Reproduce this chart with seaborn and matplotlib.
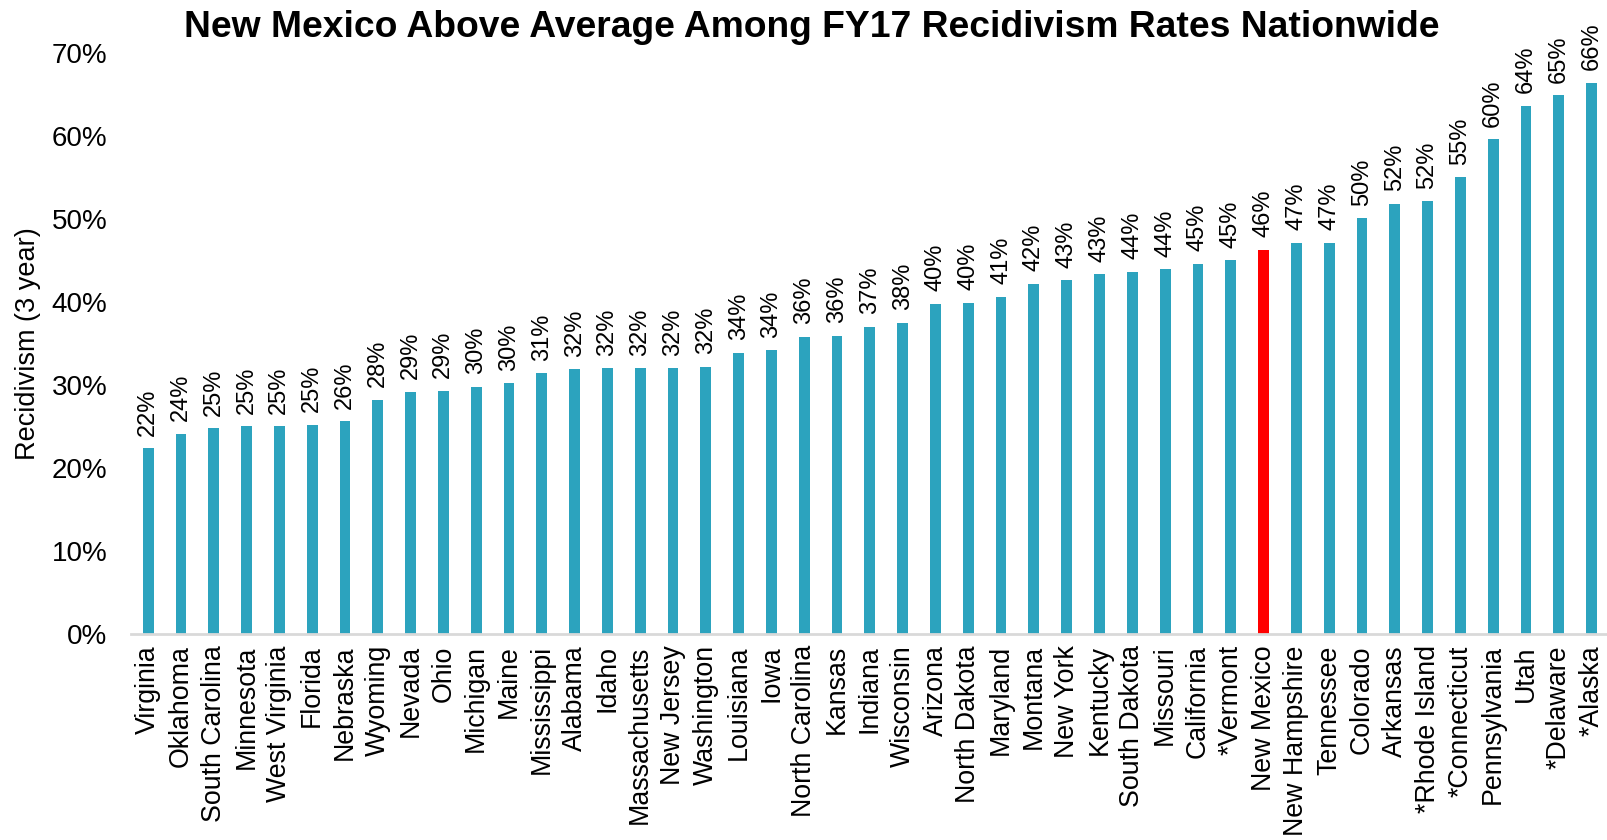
import matplotlib
matplotlib.use("Agg")
import matplotlib.pyplot as plt
import seaborn as sns
import pandas as pd
from matplotlib.ticker import PercentFormatter

# ===== DATA =====
states = ["Virginia", "Oklahoma", "South Carolina", "Minnesota", "West Virginia", "Florida",
          "Nebraska", "Wyoming", "Nevada", "Ohio", "Michigan", "Maine", "Mississippi",
          "Alabama", "Idaho", "Massachusetts", "New Jersey", "Washington", "Louisiana", "Iowa",
          "North Carolina", "Kansas", "Indiana", "Wisconsin", "Arizona", "North Dakota",
          "Maryland", "Montana", "New York", "Kentucky", "South Dakota", "Missouri",
          "California", "*Vermont", "New Mexico", "New Hampshire", "Tennessee", "Colorado",
          "Arkansas", "*Rhode Island", "*Connecticut", "Pennsylvania", "Utah", "*Delaware",
          "*Alaska"]
rates = [22.4, 24.1, 24.8, 25.0, 25.0, 25.2, 25.6, 28.2, 29.2, 29.3, 29.8, 30.2, 31.4,
         31.9, 32.0, 32.0, 32.0, 32.2, 33.9, 34.2, 35.8, 35.9, 37.0, 37.5, 39.8, 39.9,
         40.6, 42.2, 42.6, 43.3, 43.6, 43.9, 44.6, 45.0, 46.3, 47.1, 47.1, 50.1,
         51.8, 52.1, 55.0, 59.6, 63.6, 64.9, 66.4]
highlight = "New Mexico"

df = pd.DataFrame({"State": states, "Rate": rates})

teal = "#2CA3BE"
colors = {s: ("#FF0000" if s == highlight else teal) for s in states}

plt.rcParams["font.family"] = ["Liberation Sans", "DejaVu Sans"]

fig = plt.figure(figsize=(16.08, 8.4), dpi=100)
ax = fig.add_axes([0.0815, 0.2452, 0.9185, 0.692])

sns.barplot(data=df, x="State", y="Rate", hue="State", palette=colors,
            legend=False, width=0.33, saturation=1, ax=ax)

for i, v in enumerate(rates):
    ax.annotate(f"{v:.0f}%", (i, v), xytext=(0, 9), textcoords="offset points",
                rotation=90, ha="center", va="bottom", fontsize=17)

ax.set_xlim(-0.52, 44.5)
ax.set_ylim(0, 70)
ax.set_yticks(range(0, 71, 10))
ax.yaxis.set_major_formatter(PercentFormatter(decimals=0))
ax.tick_params(axis="y", length=0, labelsize=20, pad=17)
ax.tick_params(axis="x", length=0, labelsize=19.3, pad=8, rotation=90)
for lab in ax.get_xticklabels():
    lab.set_va("top")
ax.set_xlabel("")
ax.set_ylabel("Recidivism (3 year)", fontsize=19.5, labelpad=8)

for side in ["top", "right", "left"]:
    ax.spines[side].set_visible(False)
ax.spines["bottom"].set_color("#D9D9D9")
ax.spines["bottom"].set_linewidth(2)

fig.text(0.505, 0.988, "New Mexico Above Average Among FY17 Recidivism Rates Nationwide",
         ha="center", va="top", fontsize=26.8, fontweight="bold")

fig.savefig("out.png", dpi=100)
